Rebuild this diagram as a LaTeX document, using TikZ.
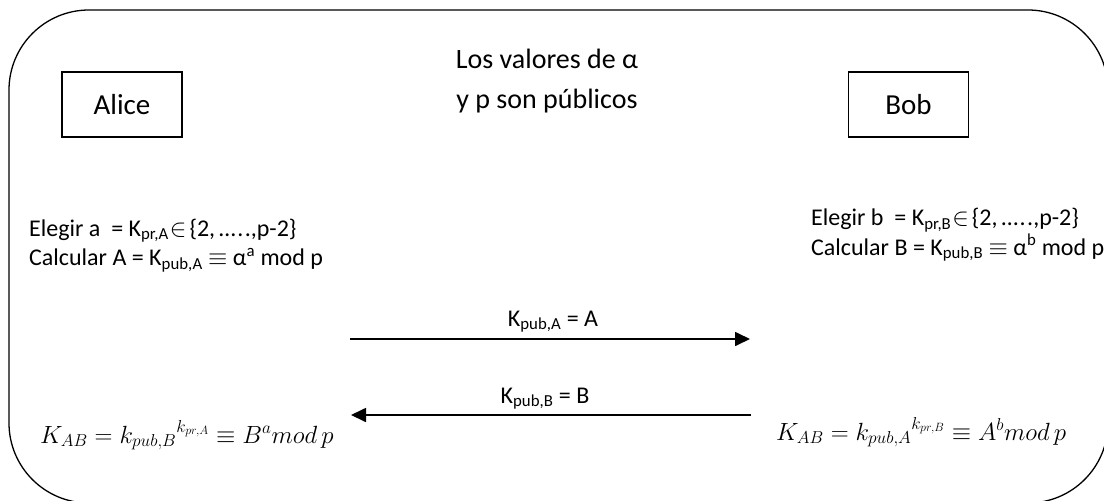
\documentclass[tikz,border=0pt]{standalone}
\usepackage{fontspec}
\setmainfont{Carlito}
\usetikzlibrary{arrows.meta}
\begin{document}
\begin{tikzpicture}[x=1pt,y=-1pt,
  frame/.style={line width=1.3pt, rounded corners=80pt},
  actor/.style={draw, line width=1.2pt, minimum width=120pt, minimum height=65pt, inner sep=0pt, font=\fontsize{29}{34}\selectfont},
  txt/.style={font=\fontsize{24}{29.5}\selectfont, inner sep=0pt, align=left, anchor=base west},
  title/.style={font=\fontsize{28}{40}\selectfont, inner sep=0pt, align=center, anchor=base},
  msg/.style={line width=1.7pt, -{Triangle[length=15pt,width=14pt]}},
  lbl/.style={font=\fontsize{24}{30}\selectfont, inner sep=0pt, anchor=base},
  eq/.style={font=\fontsize{26}{32}\selectfont, inner sep=0pt, anchor=base west}]
\clip (0,0) rectangle (1104,501);
\draw[frame] (9,10) rectangle (1108,503);
\node[actor] (alice) at (122,104.5) {Alice};
\node[actor] (bob) at (908.5,104.5) {Bob};
\node[title] (pub) at (547,108) {Los valores de α\\y p son públicos};
\node[txt] (atext) at (29,265.5) {Elegir a\ \ = K\textsubscript{pr,A}\kern1pt\ensuremath{\in}\kern3pt\{2,\kern4pt…\kern1.5pt.\kern1.5pt.,p-2\}\\Calcular A = K\textsubscript{pub,A} \ensuremath{\equiv} α\textsuperscript{a} mod p};
\node[txt] (btext) at (811,255) {Elegir b\ \ = K\textsubscript{pr,B}\kern1pt\ensuremath{\in}\kern3pt\{2,\kern4pt…\kern1.5pt.\kern1.5pt.,p-2\}\\Calcular B = K\textsubscript{pub,B} \ensuremath{\equiv} α\textsuperscript{b} mod p};
\coordinate (m1s) at (350,339);
\coordinate (m1e) at (750,339);
\coordinate (m2s) at (751,415);
\coordinate (m2e) at (351,415);
\draw[msg] (m1s) -- (m1e);
\draw[msg] (m2s) -- (m2e);
\node[lbl] (l1) at (553,326) {K\textsubscript{pub,A} = A};
\node[lbl] (l2) at (545,403) {K\textsubscript{pub,B} = B};
\node[eq] (ka) at (40,443) {$K_{AB}={k_{pub,B}}^{k_{pr,A}}\equiv B^a mod\,p$};
\node[eq] (kb) at (776,440) {$K_{AB}={k_{pub,A}}^{k_{pr,B}}\equiv A^b mod\,p$};
\end{tikzpicture}
\end{document}
